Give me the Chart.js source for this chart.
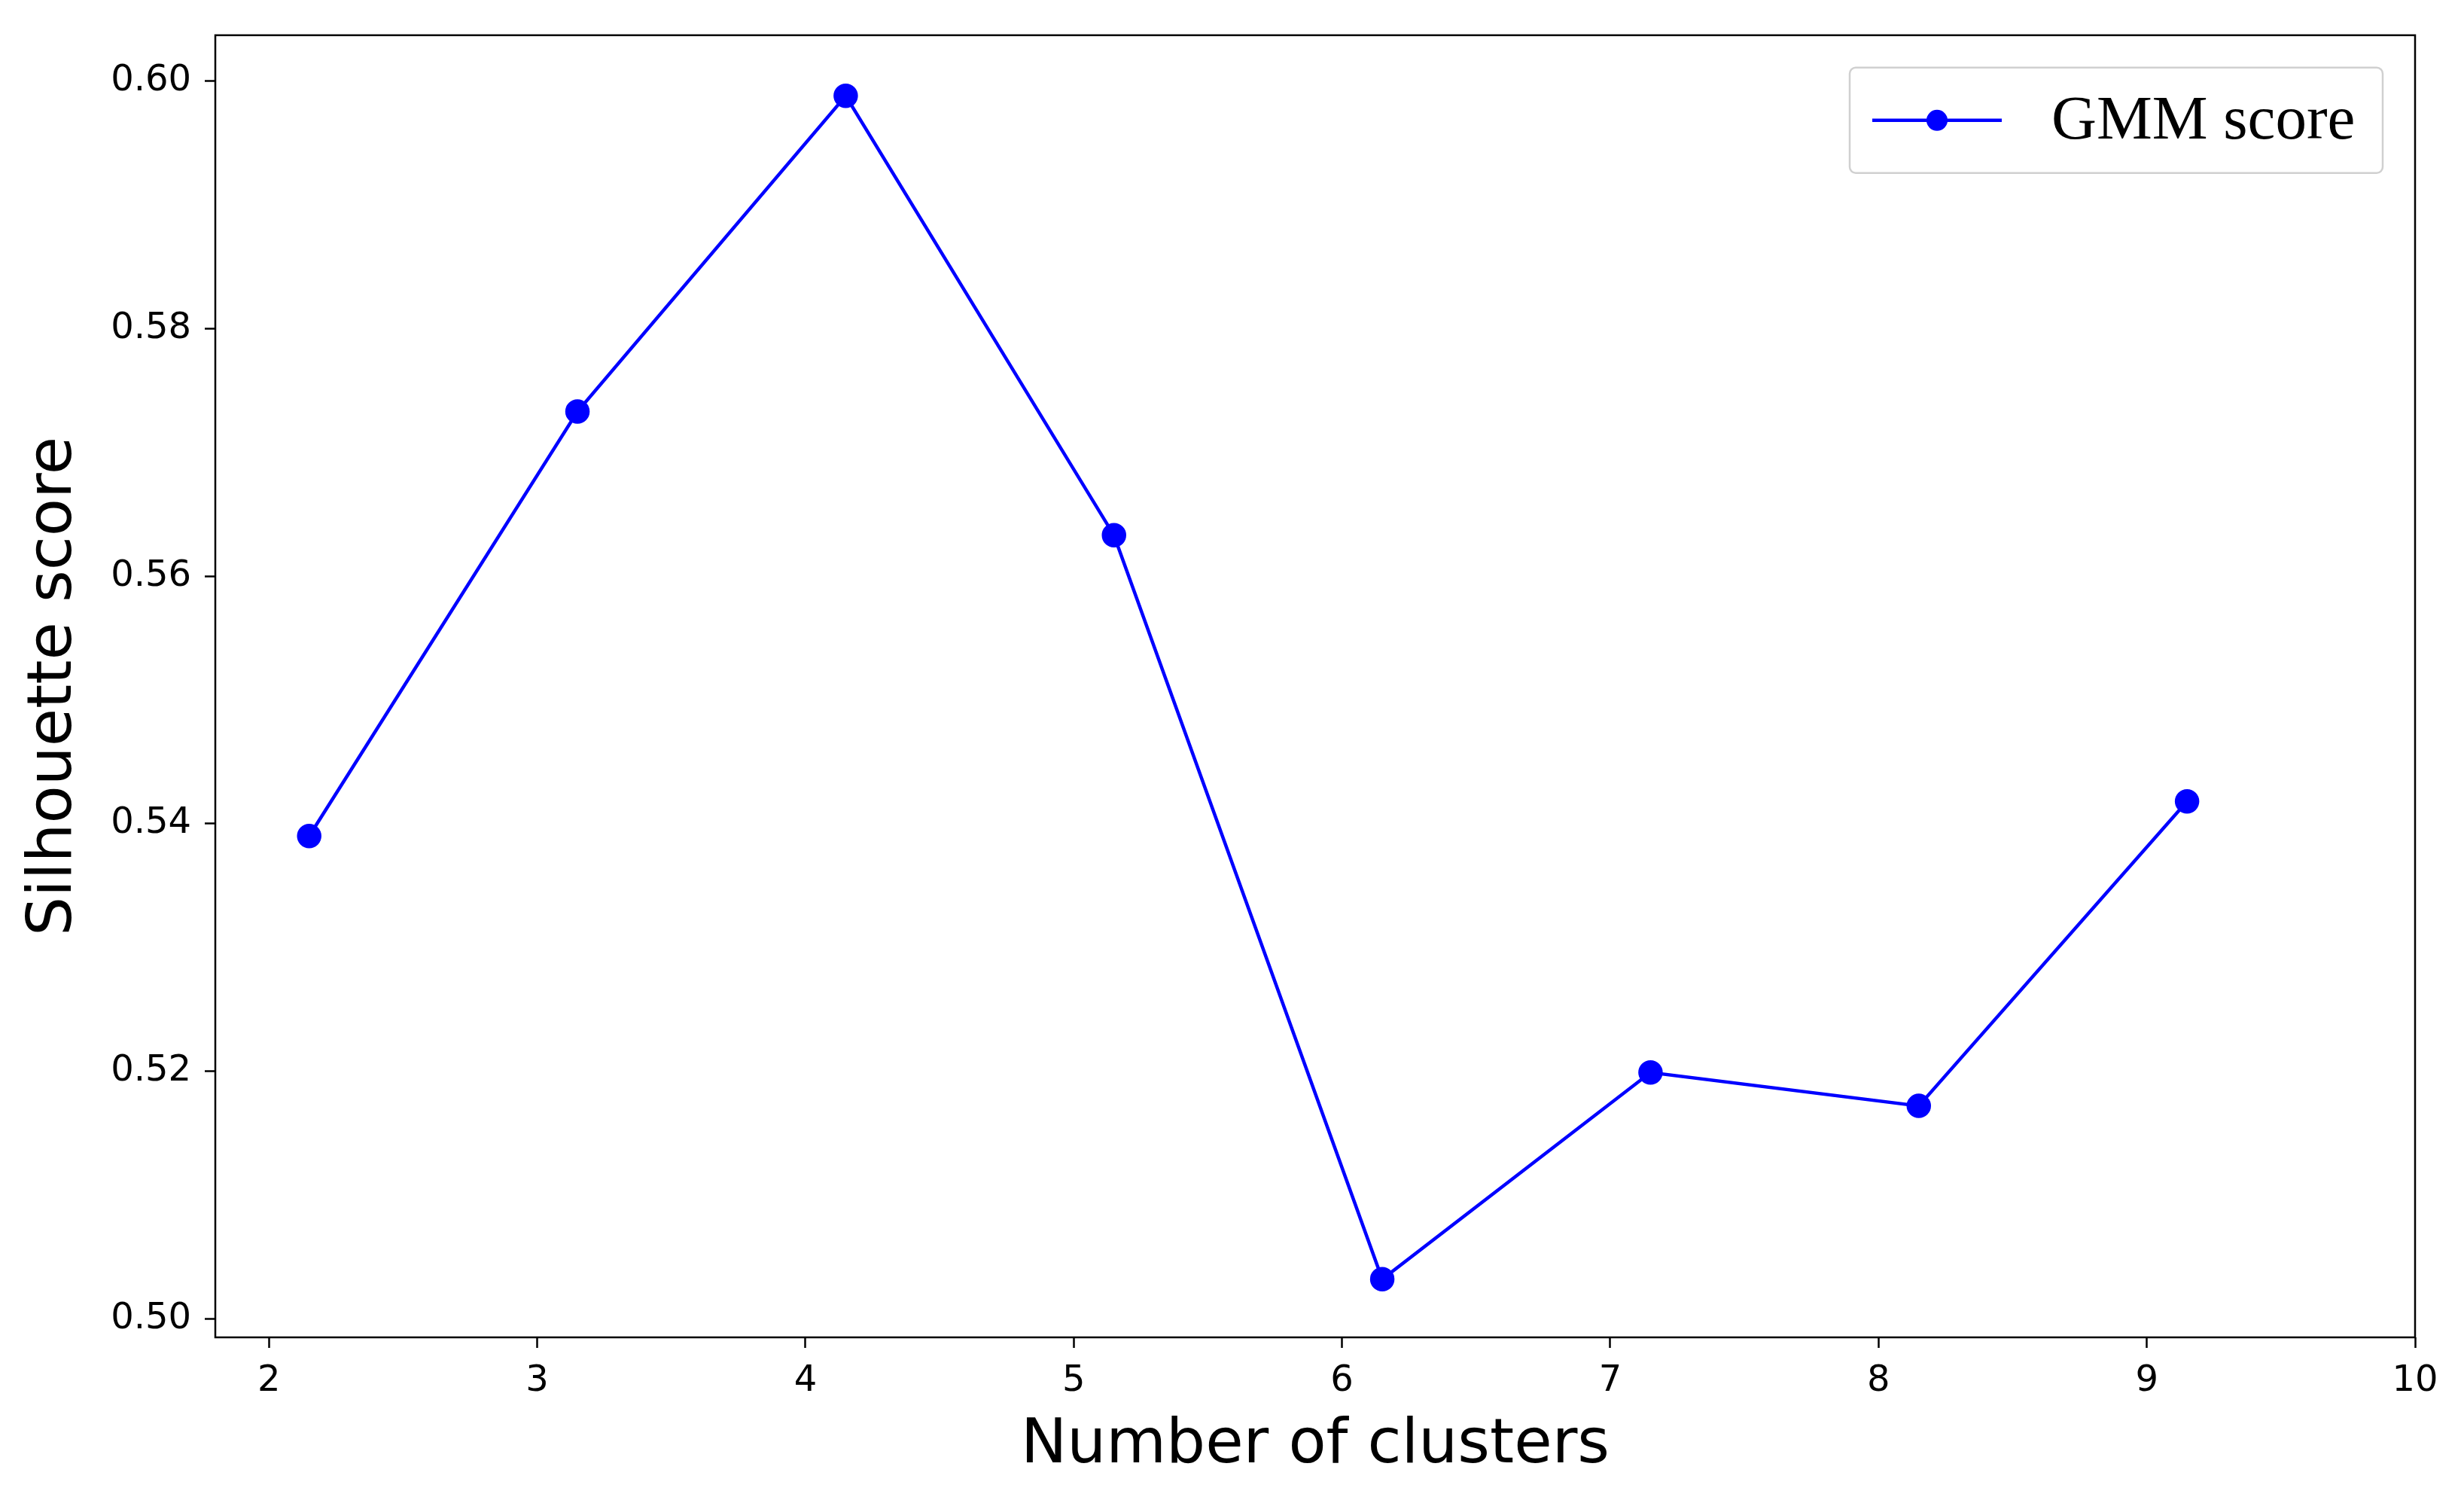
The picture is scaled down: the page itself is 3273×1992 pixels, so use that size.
<!DOCTYPE html>
<html><head><meta charset="utf-8">
<script src="https://cdn.jsdelivr.net/npm/chart.js@4"></script>
<style>html,body{margin:0;padding:0;background:#fff}#w{width:3273px;height:1992px}</style>
</head><body><div id="w"><canvas id="c"></canvas></div>
<script>
const clusters = [2.15, 3.15, 4.15, 5.15, 6.15, 7.15, 8.15, 9.15];
const scores = [0.539, 0.5733, 0.5988, 0.5633, 0.5032, 0.5199, 0.5172, 0.5418];
const xTicks = [2, 3, 4, 5, 6, 7, 8, 9, 10];
const yTicks = [0.50, 0.52, 0.54, 0.56, 0.58, 0.60];
const seriesLabel = 'GMM score';

const framePlugin = {
  id: 'frame',
  afterDraw(chart) {
    const {ctx, chartArea: a} = chart;
    ctx.save();
    ctx.strokeStyle = '#000'; ctx.lineWidth = 2.5;
    ctx.strokeRect(a.left, a.top, a.right - a.left, a.bottom - a.top);
    const bw = 708, bh = 140, bx = a.right - 43 - bw, by = a.top + 43;
    ctx.strokeStyle = '#d0d0d0'; ctx.lineWidth = 2.5;
    ctx.fillStyle = 'rgba(255,255,255,0.8)';
    ctx.beginPath(); ctx.roundRect(bx, by, bw, bh, 8); ctx.fill(); ctx.stroke();
    const cy = by + bh / 2;
    ctx.strokeStyle = '#0000ff'; ctx.lineWidth = 4.5;
    ctx.beginPath(); ctx.moveTo(bx + 30, cy); ctx.lineTo(bx + 202, cy); ctx.stroke();
    ctx.fillStyle = '#0000ff';
    ctx.beginPath(); ctx.arc(bx + 116, cy, 14, 0, Math.PI * 2); ctx.fill();
    ctx.fillStyle = '#000'; ctx.font = '83px "Liberation Serif"';
    ctx.textBaseline = 'middle';
    ctx.fillText(seriesLabel, bx + 268, cy + 2);
    ctx.restore();
  }
};

const gridOpts = { display: true, drawOnChartArea: false, color: 'rgba(0,0,0,0)',
                   drawTicks: true, tickLength: 14, tickColor: '#000', tickWidth: 2.5 };

new Chart(document.getElementById('c'), {
  type: 'scatter',
  data: { datasets: [{
    label: seriesLabel,
    data: clusters.map((x, i) => ({x, y: scores[i]})),
    showLine: true, borderColor: '#0000ff', backgroundColor: '#0000ff',
    borderWidth: 4.5, pointRadius: 14, pointHoverRadius: 14
  }]},
  options: {
    responsive: true, maintainAspectRatio: false, animation: false,
    layout: { padding: { top: 35, right: 65, left: 0, bottom: 0 } },
    plugins: { legend: { display: false }, tooltip: { enabled: false } },
    scales: {
      x: {
        type: 'linear', min: 1.8, max: 10,
        afterBuildTicks: s => { s.ticks = xTicks.map(v => ({value: v})); },
        afterFit: s => { s.height = 216; },
        grid: gridOpts,
        border: { display: false },
        ticks: { color: '#000', font: { family: 'DejaVu Sans', size: 48 }, padding: 16 },
        title: { display: true, text: 'Number of clusters', color: '#000',
                 font: { family: 'DejaVu Sans', size: 82 }, padding: { top: 0, bottom: 22 } }
      },
      y: {
        min: 0.4985, max: 0.6037,
        afterBuildTicks: s => { s.ticks = yTicks.map(v => ({value: v})); },
        afterFit: s => { s.width = 286; },
        grid: gridOpts,
        border: { display: false },
        ticks: { color: '#000', font: { family: 'DejaVu Sans', size: 48 }, padding: 18,
                 callback: v => v.toFixed(2) },
        title: { display: true, text: 'Silhouette score', color: '#000',
                 font: { family: 'DejaVu Sans', size: 82 }, padding: { top: 24, bottom: 0 } }
      }
    }
  },
  plugins: [framePlugin]
});
</script></body></html>
